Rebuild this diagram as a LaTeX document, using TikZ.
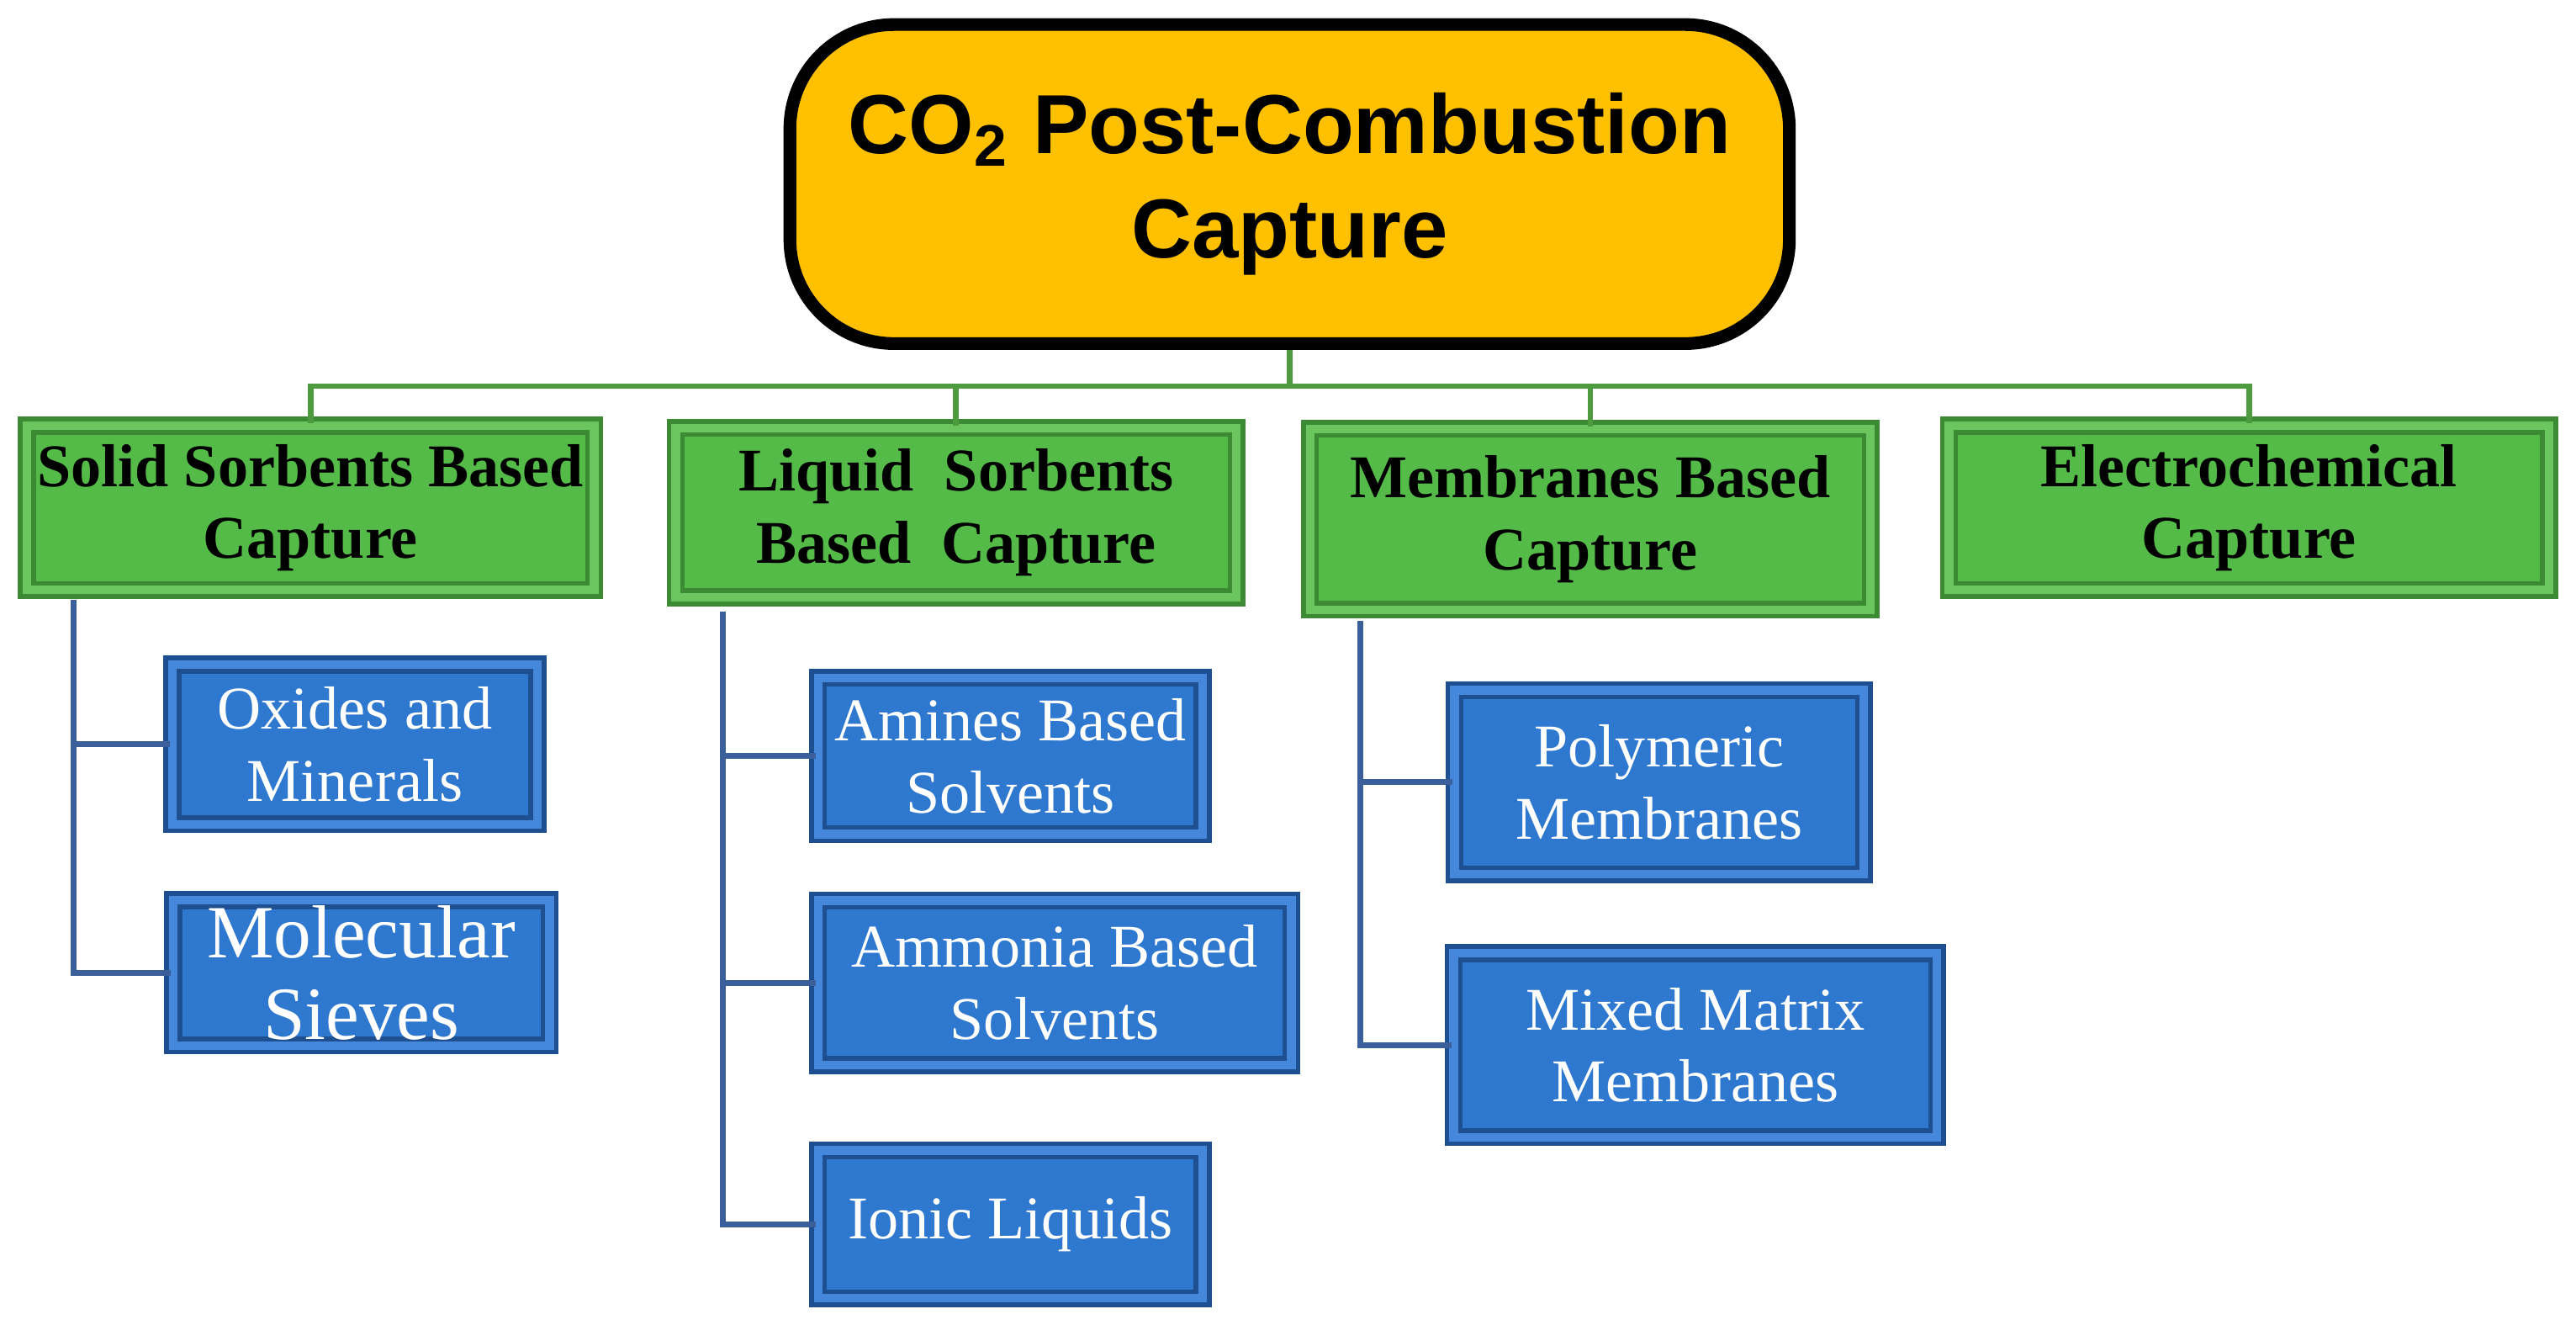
\documentclass[tikz,border=0pt]{standalone}
\usepackage{fontspec}
\setmainfont{Liberation Serif}
\newfontfamily\sansf{Liberation Sans}
\definecolor{gmain}{HTML}{55BB48}
\definecolor{gdark}{HTML}{3C8A33}
\definecolor{glight}{HTML}{6CC660}
\definecolor{bmain}{HTML}{2F78D0}
\definecolor{bdark}{HTML}{1E4F90}
\definecolor{blight}{HTML}{4587DA}
\definecolor{omain}{HTML}{FFC000}
\definecolor{gline}{HTML}{4E9A3E}
\definecolor{bline}{HTML}{3A5F9A}
\begin{document}
\begin{tikzpicture}[x=0.01cm,y=-0.01cm,
 gbox/.style={rectangle, fill=gmain, draw=gdark, line width=0.8pt, double=glight, double distance=1.5pt, align=center, font=\bfseries\fontsize{10.5}{12.5}\selectfont, inner sep=1pt},
 bbox/.style={rectangle, fill=bmain, draw=bdark, line width=0.8pt, double=blight, double distance=1.5pt, align=center, text=white, font=\fontsize{10.5}{12.5}\selectfont, inner sep=1pt},
 gl/.style={gline, line width=1pt},
 bl/.style={bline, line width=1pt}]
\useasboundingbox (0,0) rectangle (1568,806);
\node[rectangle, rounded corners=18pt, fill=omain, draw=black, line width=2.2pt, minimum width=6.08cm, minimum height=1.94cm, align=center, font=\sansf\bfseries\fontsize{14.5}{18}\selectfont] (top) at (785,112) {CO\textsubscript{2} Post-Combustion\\Capture};
\node[gbox, minimum width=3.45cm, minimum height=1.0cm] (g1) at (189,309) {Solid Sorbents Based\\Capture};
\node[gbox, minimum width=3.41cm, minimum height=1.03cm] (g2) at (582,312) {Liquid\ \ Sorbents\\Based\ \ Capture};
\node[gbox, minimum width=3.41cm, minimum height=1.1cm] (g3) at (968,316) {Membranes Based\\Capture};
\node[gbox, minimum width=3.65cm, minimum height=1.0cm] (g4) at (1369,309) {Electrochemical\\Capture};
\coordinate (bus) at (785,235);
\draw[gl] (top.south) -- (bus);
\draw[gl] (g1.north) |- (bus) -| (g4.north);
\draw[gl] (g2.north) -- (g2.north |- bus);
\draw[gl] (g3.north) -- (g3.north |- bus);
\node[bbox, minimum width=2.22cm, minimum height=0.97cm] (b1) at (216,453) {Oxides and\\Minerals};
\node[bbox, minimum width=2.29cm, minimum height=0.87cm, font=\fontsize{13}{14}\selectfont] (b2) at (220,592) {Molecular\\Sieves};
\node[bbox, minimum width=2.34cm, minimum height=0.95cm] (b3) at (615,460) {Amines Based\\Solvents};
\node[bbox, minimum width=2.88cm, minimum height=1.0cm] (b4) at (642,598) {Ammonia Based\\Solvents};
\node[bbox, minimum width=2.34cm, minimum height=0.9cm] (b5) at (615,745) {Ionic Liquids};
\node[bbox, minimum width=2.49cm, minimum height=1.12cm] (b6) at (1010,476) {Polymeric\\Membranes};
\node[bbox, minimum width=2.94cm, minimum height=1.12cm] (b7) at (1032,636) {Mixed Matrix\\Membranes};
\coordinate (t1) at (45,365); \coordinate (t2) at (440,372); \coordinate (t3) at (828,378);
\draw[bl] (t1) |- (b1.west); \draw[bl] (t1) |- (b2.west);
\draw[bl] (t2) |- (b3.west); \draw[bl] (t2) |- (b4.west); \draw[bl] (t2) |- (b5.west);
\draw[bl] (t3) |- (b6.west); \draw[bl] (t3) |- (b7.west);
\end{tikzpicture}
\end{document}
